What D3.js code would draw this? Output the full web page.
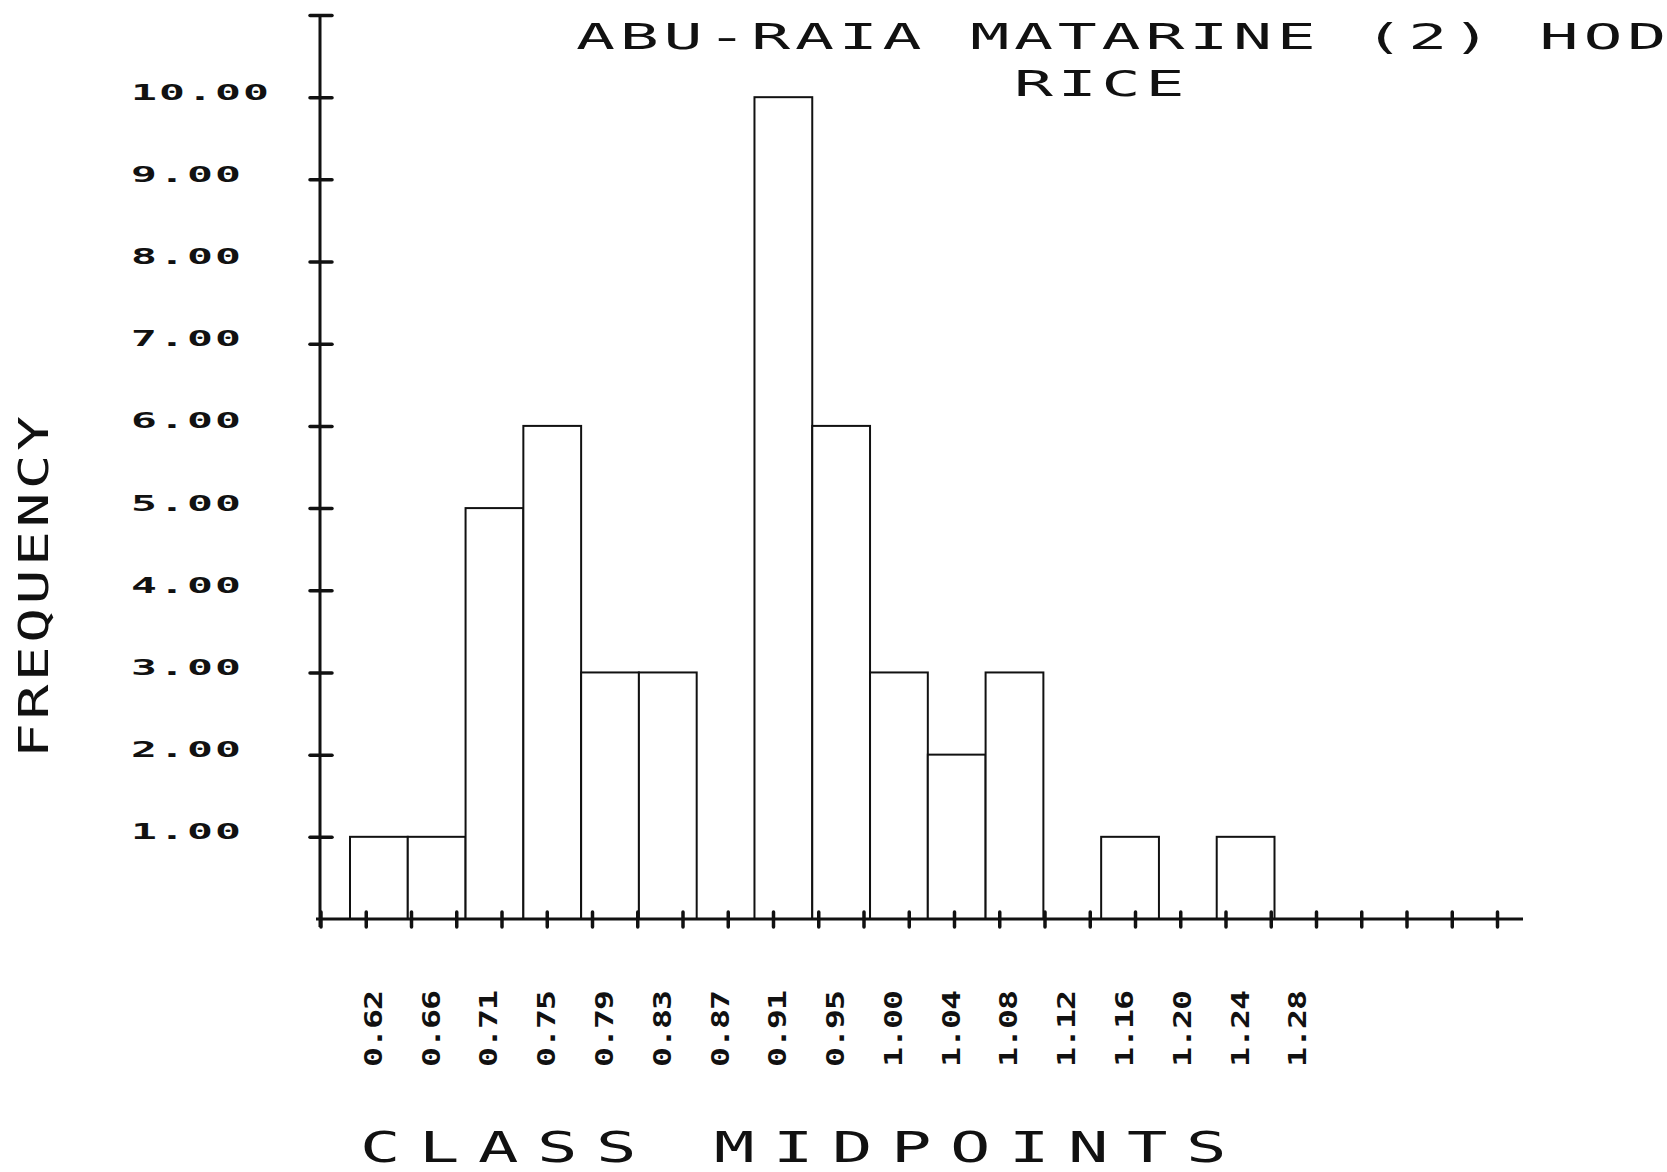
<!DOCTYPE html>
<html>
<head>
<meta charset="utf-8">
<script src="https://cdn.jsdelivr.net/npm/d3@7/dist/d3.min.js"></script>
<style>
  html, body { margin: 0; padding: 0; background: #fff; }
  svg { display: block; }
</style>
</head>
<body>
<svg width="1667" height="1172"></svg>
<script>
// histogram counts, one per class
const frequencies = [1, 1, 5, 6, 3, 3, 0, 10, 6, 3, 2, 3, 0, 1, 0, 1]
// class midpoint labels (one more than the bars)
const midpoints = ['0.62', '0.66', '0.71', '0.75', '0.79', '0.83', '0.87', '0.91', '0.95',
    '1.00', '1.04', '1.08', '1.12', '1.16', '1.20', '1.24', '1.28']
const yTicks = [1, 2, 3, 4, 5, 6, 7, 8, 9, 10, 11]
const yTickLabels = ['1.00', '2.00', '3.00', '4.00', '5.00', '6.00', '7.00', '8.00', '9.00', '10.00']
const axisTickCount = 26
const titleLines = ['ABU-RAIA MATARINE (2) HOD', 'RICE']
const xTitle = 'CLASS MIDPOINTS'
const yTitle = 'FREQUENCY'

const ink = '#111'
const svg = d3.select('svg')

const y = d3.scaleLinear().domain([0, 11]).range([919, 15])
const x = d3.scaleLinear().domain([0, frequencies.length]).range([350, 1274.5])
const xTickScale = d3.scaleLinear().domain([0, axisTickCount]).range([320.5, 1497])

// plotter-ish text: monospace glyphs stretched sideways, one fixed cell per char
function plotText(parent, str, o) {
    const step = o.cell / o.sx
    return parent.append('text')
        .attr('font-family', '"DejaVu Sans Mono", monospace')
        .attr('font-weight', o.bold ? 'bold' : 'normal')
        .attr('font-size', o.size)
        .attr('fill', ink)
        .attr('transform', `translate(${o.x},${o.y}) rotate(${o.rot || 0}) scale(${o.sx},1)`)
        .attr('x', d3.range(str.length).map(i => (i * step).toFixed(2)).join(' '))
        .attr('y', 0)
        .text(str)
}

// bars
svg.append('g')
    .selectAll('rect')
    .data(frequencies.map((v, i) => ({ v, i })).filter(d => d.v > 0))
    .join('rect')
    .attr('x', d => x(d.i))
    .attr('y', d => y(d.v))
    .attr('width', d => x(d.i + 1) - x(d.i))
    .attr('height', d => y(0) - y(d.v))
    .attr('fill', '#fff')
    .attr('stroke', ink)
    .attr('stroke-width', 2)

// y axis
const yAxis = svg.append('g')
    .attr('transform', `translate(320,0)`)
    .call(d3.axisLeft(y).tickValues(yTicks).tickFormat('').tickSizeOuter(0))
yAxis.select('.domain').remove()
yAxis.selectAll('.tick line')
    .attr('x1', -10).attr('x2', 12)
    .attr('stroke', ink).attr('stroke-width', 3.5).attr('stroke-linecap', 'round')
svg.append('line')
    .attr('x1', 320).attr('x2', 320)
    .attr('y1', y(11)).attr('y2', y(0) + 8)
    .attr('stroke', ink).attr('stroke-width', 3)

// x axis
const xAxis = svg.append('g')
    .attr('transform', `translate(0,${y(0)})`)
    .call(d3.axisBottom(xTickScale).tickValues(d3.range(axisTickCount + 1)).tickFormat('').tickSizeOuter(0))
xAxis.select('.domain').remove()
xAxis.selectAll('.tick line')
    .attr('y1', -7).attr('y2', 8)
    .attr('stroke', ink).attr('stroke-width', 3.5).attr('stroke-linecap', 'round')
svg.append('line')
    .attr('x1', 316).attr('x2', 1523)
    .attr('y1', y(0)).attr('y2', y(0))
    .attr('stroke', ink).attr('stroke-width', 3)

// y tick labels
yTickLabels.forEach((lbl, i) => {
    plotText(svg, lbl, { x: 131, y: y(i + 1) + 2.5, size: 20.5, bold: true, sx: 2.1, cell: 28 })
})

// x tick labels, rotated
midpoints.forEach((lbl, i) => {
    plotText(svg, lbl, { x: x(i + 0.5) + 3, y: 1067, rot: -90, size: 24.6, bold: true, sx: 1.35, cell: 19 })
})

// titles
plotText(svg, titleLines[0], { x: 576, y: 49, size: 36, sx: 1.8, cell: 43.8 })
plotText(svg, titleLines[1], { x: 1014, y: 96, size: 36, sx: 1.8, cell: 43.8 })
plotText(svg, xTitle, { x: 360, y: 1162, size: 42, sx: 1.6, cell: 59 })
plotText(svg, yTitle, { x: 48, y: 758, rot: -90, size: 40, sx: 1.45, cell: 38.4 })
</script>
</body>
</html>
